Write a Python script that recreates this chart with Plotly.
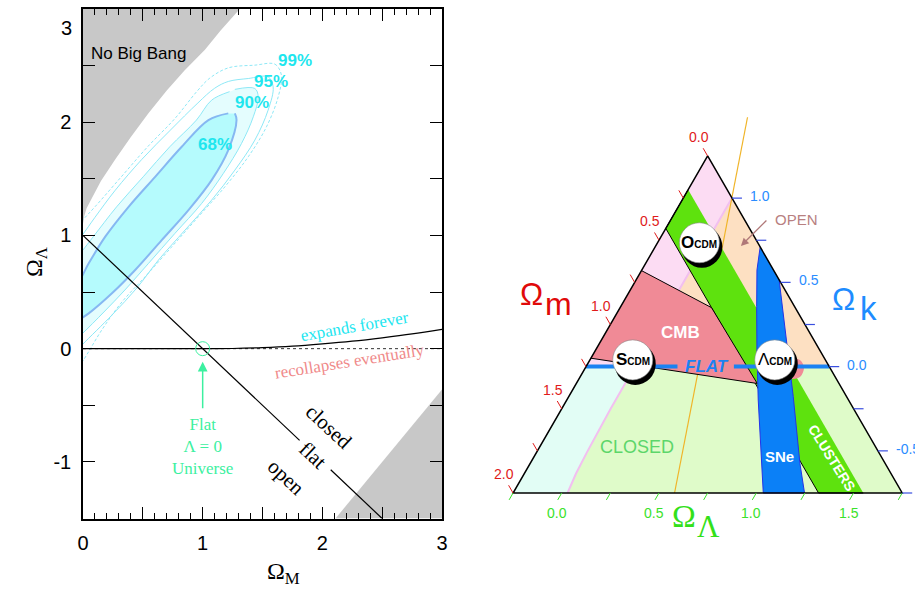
import numpy as np
import plotly.graph_objects as go

SANS = "Liberation Sans, Arial, sans-serif"
SERIF = "Liberation Serif, Times New Roman, serif"

# ================= Left panel data (Omega_M, Omega_Lambda) =================
nbb_m = [0, 0, 0.01, 0.03, 0.075, 0.15, 0.269, 0.4, 0.547, 0.7, 0.85, 1.019, 1.15, 1.31]
nbb_l = [3, 1.1, 1.17, 1.24, 1.33, 1.48, 1.67, 1.87, 2.08, 2.28, 2.46, 2.64, 2.81, 3.0]
low_m = [2.11, 3.0, 3.0]
low_l = [-1.5, -0.36, -1.5]

c68_m = [1.269, 1.283, 1.214, 1.075, 0.881, 0.658, 0.436, 0.242, 0.048, -0.06, -0.25, -0.25,
         -0.06, 0.048, 0.186, 0.381, 0.603, 0.825, 1.048, 1.214]
c68_l = [2.078, 2.019, 1.754, 1.489, 1.224, 0.959, 0.695, 0.489, 0.312, 0.24, 0.15, 0.45,
         0.56, 0.754, 0.989, 1.253, 1.518, 1.783, 2.019, 2.078]
c90_m = [1.269, 1.436, 1.464, 1.423, 1.325, 1.173, 0.992, 0.769, 0.548, 0.35, 0.175, -0.008, -0.1,
         -0.3, -0.3, -0.1, -0.008, 0.086, 0.281, 0.503, 0.725, 0.948, 1.075, 1.225]
c90_l = [2.29, 2.298, 2.224, 2.048, 1.813, 1.548, 1.283, 1.019, 0.754, 0.518, 0.324, 0.13, 0.04,
         -0.1, 0.6, 0.75, 0.862, 0.989, 1.253, 1.518, 1.783, 2.019, 2.195, 2.27]
c95_m = [1.381, 1.547, 1.589, 1.547, 1.436, 1.269, 1.075, 0.853, 0.631, 0.45, 0.242, -0.008, -0.1,
         -0.3, -0.3, -0.1, -0.008, 0.1, 0.27, 0.49, 0.73, 0.96, 1.1, 1.214, 1.381]
c95_l = [2.386, 2.401, 2.312, 2.107, 1.842, 1.577, 1.312, 1.048, 0.783, 0.536, 0.297, 0.033, -0.07,
         -0.2, 0.8, 0.88, 1.0, 1.16, 1.4, 1.67, 1.93, 2.17, 2.3, 2.36, 2.386]
c99_m = [1.436, 1.603, 1.658, 1.631, 1.533, 1.381, 1.186, 0.964, 0.742, 0.519, 0.325, 0.16, -0.008, -0.1,
         -0.3, -0.3, -0.1, -0.008, 0.1, 0.32, 0.54, 0.77, 0.95, 1.06, 1.214, 1.436]
c99_l = [2.504, 2.513, 2.416, 2.224, 1.959, 1.695, 1.43, 1.165, 0.9, 0.635, 0.412, 0.17, -0.12, -0.25,
         -0.35, 1.0, 1.02, 1.13, 1.253, 1.518, 1.783, 2.035, 2.27, 2.39, 2.48, 2.504]

conf_text = ["68%", "90%", "95%", "99%"]
conf_m = [1.10, 1.41, 1.575, 1.77]
conf_l = [1.80, 2.17, 2.357, 2.548]

expand_m = [0, 1.0, 1.25, 1.5, 1.75, 2.0, 2.25, 2.5, 2.75, 3.0]
expand_l = [0, 0, 0.0015, 0.009, 0.022, 0.042, 0.066, 0.096, 0.13, 0.171]
zero_m = [0, 3]
zero_l = [0, 0]
flat_m = [0, 1.81, None, 2.07, 2.5]
flat_l = [1, -0.81, None, -1.07, -1.5]
flatpt_m = [1.0]
flatpt_l = [0.0]

xt_vals = [0, 0.5, 1, 1.5, 2, 2.5, 3]
xt_text = ["0", "", "1", "", "2", "", "3"]
yt_vals = [-1.5, -1, -0.5, 0, 0.5, 1, 1.5, 2, 2.5, 3]
yt_text = ["", "-1", "", "0", "", "1", "", "2", "", ""]
ytop_label = "3"

# ================= Right panel data: cosmic triangle (Omega_m, Omega_Lambda) =================
tri_m = [0, 2, 0, 0]
tri_l = [-0.25, -0.25, 1.75, -0.25]
pink_m = [0, 0, 1, 1.25]
pink_l = [-0.25, 0, 0, -0.25]
peach_m = [0, 0, 1]
peach_l = [0, 1, 0]
recoll_m = [1.0, 1.25, 1.5, 1.62, 1.72]
recoll_l = [0.0, 0.0015, 0.009, 0.016, 0.03]
band_m = [0.2, 0.43, 0.43, 0.2]
band_l = [-0.25, -0.25, 1.32, 1.55]
cmb_m = [0.68, 0.43, 0.42, 1.2]
cmb_l = [-0.25, 0.22, 0.68, -0.25]
cmb2_m = [0.179, 0.131, 0.134, 0.181, 0.239]
cmb2_l = [0.775, 0.83, 0.874, 0.88, 0.835]
sne_m = [0, 0.085, 0.195, 0.331, 0.464, 0.714, 0.502, 0.4375, 0.274, 0.13, 0.016, 0]
sne_l = [0.29, 0.342, 0.449, 0.588, 0.734, 1.036, 1.248, 1.136, 0.904, 0.68, 0.51, 0.485]
age_m = [-0.32, 1.17]
age_l = [-0.16, 0.58]
flatline_m = [1.25, 0.78, None, 0.49, 0]
flatline_l = [-0.25, 0.22, None, 0.51, 1]

models = ["<b>O<span style='font-size:10px'>CDM</span></b>",
          "<b>S<span style='font-size:10px'>CDM</span></b>",
          "Λ<b><span style='font-size:10px'>CDM</span></b>"]
model_m = [0.30, 0.99, 0.26]
model_l = [-0.035, -0.03, 0.70]

om_ticks = [0, 0.25, 0.5, 0.75, 1.0, 1.25, 1.5, 1.75, 2.0]
ol_ticks = [-0.25, 0, 0.25, 0.5, 0.75, 1.0, 1.25, 1.5, 1.75]
ok_ticks = [1.0, 0.75, 0.5, 0.25, 0.0, -0.25, -0.5, -0.75]
om_lab = [0, 0.5, 1.0, 1.5, 2.0]
ol_lab = [0, 0.5, 1.0, 1.5]
ok_lab = [1.0, 0.5, 0.0, -0.5]

S3 = np.sqrt(3.0)


def tri(om, ol):
    om = np.array([np.nan if v is None else v for v in om], float)
    ol = np.array([np.nan if v is None else v for v in ol], float)
    return (ol - om) / S3, 1 - om - ol


fig = go.Figure()
LA = dict(xaxis="x", yaxis="y")
RA = dict(xaxis="x2", yaxis="y2")


def add(x, y, axes, fill=None, fillcolor=None, color="black", width=1, dash=None, shape="linear", mode="lines"):
    fig.add_trace(go.Scatter(x=list(x), y=list(y), mode=mode, fill=fill or "none", fillcolor=fillcolor,
                             line=dict(color=color, width=width, dash=dash, shape=shape),
                             hoverinfo="skip", connectgaps=False, **axes))


# ---- left panel traces ----
add(nbb_m, nbb_l, LA, fill="toself", fillcolor="#c8c8c8", color="#c8c8c8", width=0)
add(low_m, low_l, LA, fill="toself", fillcolor="#c8c8c8", color="#c8c8c8", width=0)
add(c99_m, c99_l, LA, color="#8ee8f6", width=1, dash="3px,2px", shape="spline")
add(c95_m, c95_l, LA, color="#8ee8f6", width=1, shape="spline")
add(c90_m, c90_l, LA, fill="toself", fillcolor="#e4fdfe", color="#8ee8f6", width=1, shape="spline")
add(c68_m, c68_l, LA, fill="toself", fillcolor="#b5fbfd", color="#86b8f2", width=2, shape="spline")
add(zero_m, zero_l, LA, color="#333333", width=1, dash="dot")
add(expand_m, expand_l, LA, color="black", width=1.2, shape="spline")
add(flat_m, flat_l, LA, color="black", width=1.2)
fig.add_trace(go.Scatter(x=flatpt_m, y=flatpt_l, mode="markers", hoverinfo="skip",
                         marker=dict(size=14, color="rgba(0,0,0,0)", line=dict(color="#3cf0a0", width=1)), **LA))

# ---- right panel traces ----
x, y = tri(pink_m, pink_l); add(x, y, RA, "toself", "#fcdcf3", "#fcdcf3", 0)
x, y = tri(peach_m, peach_l); add(x, y, RA, "toself", "#fde0c2", "#fde0c2", 0)
cy_m = [1.25] + recoll_m + [2.0]
cy_l = [-0.25] + recoll_l + [-0.25]
x, y = tri(cy_m, cy_l); add(x, y, RA, "toself", "#e2fdf5", "#e2fdf5", 0)
lg_m = [0, 0] + recoll_m[::-1]
lg_l = [1, 1.75] + recoll_l[::-1]
x, y = tri(lg_m, lg_l); add(x, y, RA, "toself", "#dffbc9", "#dffbc9", 0)
x, y = tri([0] + recoll_m, [0] + recoll_l); add(x, y, RA, color="#f2bff0", width=2)
x, y = tri(age_m, age_l); add(x, y, RA, color="#f0b428", width=1.2)
x, y = tri(band_m, band_l); add(x, y, RA, "toself", "#5ee20e", "black", 1)
x, y = tri(cmb_m, cmb_l); add(x, y, RA, "toself", "#f08a96", "black", 1)
x, y = tri(cmb2_m, cmb2_l); add(x, y, RA, "toself", "#f08a96", "#f08a96", 0, shape="spline")
x, y = tri(sne_m, sne_l); add(x, y, RA, "toself", "#0b80f7", "#2433e8", 1)
x, y = tri(flatline_m, flatline_l); add(x, y, RA, color="#1b82f2", width=4)
x, y = tri(tri_m, tri_l); add(x, y, RA, color="black", width=1.5)

# ticks on the three sides
tm, tl = [], []
for m in om_ticks:
    tm += [m, m, None]; tl += [-0.25, -0.296, None]
x, y = tri(tm, tl); add(x, y, RA, color="#e01a1a", width=1)
tm, tl = [], []
for l in ol_ticks:
    tm += [1.75 - l, 1.75 - l + 0.041, None]; tl += [l, l, None]
x, y = tri(tm, tl); add(x, y, RA, color="#3ae22a", width=1)
tm, tl = [], []
for k in ok_ticks:
    tm += [0, -0.0514, None]; tl += [1 - k, 1 - k + 0.0514, None]
x, y = tri(tm, tl); add(x, y, RA, color="#3a4fe0", width=1.2)

ann = []


def A(text, x, y, xref="x", yref="y", size=14, color="black", family=SANS, angle=0, **kw):
    ann.append(dict(text=text, x=float(x), y=float(y), xref=xref, yref=yref, showarrow=False,
                    font=dict(size=size, color=color, family=family), textangle=angle, **kw))


# ---- left panel annotations ----
A(ytop_label, 74 / 915, 1 - 15 / 604, "paper", "paper", size=20, xanchor="right")
A("No Big Bang", 0.467, 2.607, size=17)
for t, m, l in zip(conf_text, conf_m, conf_l):
    A("<b>" + t + "</b>", m, l, size=17, color="#1fe6ee")
A("expands forever", 2.267, 0.192, size=17, color="#22e6f0", family=SERIF, angle=-10)
A("recollapses eventually", 2.225, -0.109, size=17, color="#f08a8a", family=SERIF, angle=-9)
A("closed", 2.058, -0.688, size=21, family=SERIF, angle=43)
A("flat", 1.919, -0.938, size=21, family=SERIF, angle=43)
A("open", 1.6975, -1.13, size=21, family=SERIF, angle=43)
A("Flat<br>Λ = 0<br>Universe", 1.0, -0.865, size=17, color="#3cf0a0", family=SERIF)
ann.append(dict(x=1.0, y=-0.115, ax=1.0, ay=-0.54, xref="x", yref="y", axref="x", ayref="y", text="",
                showarrow=True, arrowhead=2, arrowsize=1.3, arrowwidth=1.5, arrowcolor="#3cf0a0"))
A("Ω<sub>M</sub>", 265 / 915, 1 - 590 / 604, "paper", "paper", size=24, family=SERIF)
A("Ω<sub>Λ</sub>", 19 / 915, 1 - 262 / 604, "paper", "paper", size=24, family=SERIF, angle=-90)

# ---- right panel annotations ----
X, Y = tri(om_lab, [-0.25] * len(om_lab))
for v, xx, yy in zip(om_lab, X, Y):
    A(f"{v:.1f}", xx, yy, "x2", "y2", size=14, color="#e01a1a", xshift=-9, yshift=19)
X, Y = tri([1.75 - l for l in ol_lab], ol_lab)
for v, xx, yy in zip(ol_lab, X, Y):
    A(f"{v:.1f}", xx, yy, "x2", "y2", size=14, color="#3ae22a", xshift=-5, yshift=-20)
X, Y = tri([0] * len(ok_lab), [1 - k for k in ok_lab])
for v, xx, yy in zip(ok_lab, X, Y):
    A(f"{v:.1f}", xx, yy, "x2", "y2", size=14, color="#2a8cff", xshift=16, yshift=2, xanchor="left")

X, Y = tri([0.63], [0.37]); A("<b><i>FLAT</i></b>", X[0], Y[0], "x2", "y2", size=17, color="#1b82f2")
X, Y = tri([0.6595], [0.135]); A("<b>CMB</b>", X[0], Y[0], "x2", "y2", size=17, color="white")
X, Y = tri([1.2258], [0.254]); A("CLOSED", X[0], Y[0], "x2", "y2", size=18, color="#5cd66a")
X, Y = tri([0.5207], [1.014]); A("<b>SNe</b>", X[0], Y[0], "x2", "y2", size=15, color="white")
X, Y = tri([0.2573], [1.285]); A("<b>CLUSTERS</b>", X[0], Y[0], "x2", "y2", size=14, color="white", angle=58)
X, Y = tri([-0.2696], [0.395]); A("OPEN", X[0], Y[0], "x2", "y2", size=15, color="#b88080")
X, Y = tri([0.0959], [0.188])
ann.append(dict(x=float(X[0]), y=float(Y[0]), xref="x2", yref="y2", text="", showarrow=True,
                ax=27, ay=-27, arrowhead=2, arrowsize=1.2, arrowwidth=1.3, arrowcolor="#b07878"))

A("Ω", 531.7 / 915, 1 - 294.3 / 604, "paper", "paper", size=31, color="#e00a0a")
A("m", 558.3 / 915, 1 - 304.3 / 604, "paper", "paper", size=32, color="#e00a0a")
A("Ω", 856.7 / 915, 1 - 299.3 / 604, "paper", "paper", size=31, color="#1e8cff")
A("k", 879 / 915, 1 - 308.6 / 604, "paper", "paper", size=33, color="#1e8cff")
A("Ω", 697.5 / 915, 1 - 535.9 / 604, "paper", "paper", size=32, color="#33e01a", family=SERIF)
A("Λ", 721.7 / 915, 1 - 545.9 / 604, "paper", "paper", size=31, color="#33e01a", family=SERIF)

shapes = []
X, Y = tri(model_m, model_l)
for t, xx, yy in zip(models, X, Y):
    shapes.append(dict(type="circle", xref="x2", yref="y2", xsizemode="pixel", ysizemode="pixel",
                       xanchor=float(xx), yanchor=float(yy), x0=-18, x1=23, y0=-25, y1=17,
                       fillcolor="black", line=dict(width=0), layer="above"))
    shapes.append(dict(type="circle", xref="x2", yref="y2", xsizemode="pixel", ysizemode="pixel",
                       xanchor=float(xx), yanchor=float(yy), x0=-20, x1=20, y0=-20, y1=20,
                       fillcolor="white", line=dict(color="#888888", width=0.6), layer="above"))
    A(t, xx, yy, "x2", "y2", size=17, color="black")

axis_common = dict(showgrid=False, zeroline=False, showline=True, linecolor="black", linewidth=1.5,
                   mirror="ticks", ticks="inside", ticklen=12, tickwidth=1, tickcolor="black",
                   tickfont=dict(family=SANS, size=20, color="black"), tickmode="array",
                   automargin=False, ticklabeloverflow="allow")

fig.update_layout(
    width=915, height=604, margin=dict(l=0, r=0, t=0, b=0, autoexpand=False),
    paper_bgcolor="white", plot_bgcolor="rgba(0,0,0,0)", showlegend=False,
    xaxis=dict(domain=[83 / 915, 442 / 915], range=[0, 3], tickvals=xt_vals, ticktext=xt_text,
               anchor="y", ticklabelstandoff=6,
               minor=dict(tickmode="linear", tick0=0, dtick=0.1, ticks="inside", ticklen=6,
                          tickcolor="black", tickwidth=1, showgrid=False),
               **axis_common),
    yaxis=dict(domain=[1 - 518.5 / 604, 1 - 9 / 604], range=[-1.5, 3], tickvals=yt_vals, ticktext=yt_text,
               anchor="x", ticklabelstandoff=6, **axis_common),
    xaxis2=dict(domain=[480 / 915, 1.0], range=[-1.4953, 1.0863], visible=False, anchor="y2",
                automargin=False),
    yaxis2=dict(domain=[1 - 600 / 604, 1 - 100 / 604], range=[-1.385, 1.5823], visible=False, anchor="x2",
                automargin=False),
    annotations=ann, shapes=shapes,
)

fig.write_html("out.html", config={"displayModeBar": False},
               post_script="document.body.style.margin='0';document.body.style.overflow='hidden';")
